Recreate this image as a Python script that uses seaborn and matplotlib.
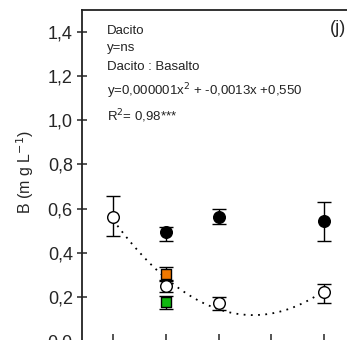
import numpy as np
import pandas as pd
import matplotlib
matplotlib.use("Agg")
import matplotlib.pyplot as plt
import seaborn as sns

# ---- data ----
x_ticks = [0, 1, 2, 3, 4]
y_ticks = [0.0, 0.2, 0.4, 0.6, 0.8, 1.0, 1.2, 1.4]
y_tick_labels = ["0,0", "0,2", "0,4", "0,6", "0,8", "1,0", "1,2", "1,4"]

open_x = [0, 1, 2, 4]
open_y = [0.562, 0.249, 0.170, 0.223]
open_lo = [0.475, 0.222, 0.140, 0.173]
open_hi = [0.656, 0.276, 0.200, 0.258]

filled_x = [1, 2, 4]
filled_y = [0.492, 0.562, 0.544]
filled_lo = [0.454, 0.528, 0.454]
filled_hi = [0.517, 0.600, 0.628]

orange_x = [1]
orange_y = [0.302]
orange_lo = [0.271]
orange_hi = [0.333]

green_x = [1]
green_y = [0.175]
green_lo = [0.144]
green_hi = [0.203]

annot_lines = ["Dacito", "y=ns", "Dacito : Basalto",
               "y=0,000001x$^{2}$ + -0,0013x +0,550", "R$^{2}$= 0,98***"]
panel_label = "(j)"
y_label = "B (m g L$^{-1}$)"

sns.set_theme(style="ticks")
plt.rcParams["font.family"] = ["Liberation Sans", "DejaVu Sans"]

fig = plt.figure(figsize=(3.47, 3.40), dpi=100)
ax = fig.add_axes([82 / 347, -0.0026, 295 / 347, 330.9 / 340])

# quadratic trend through the open-circle means
coef = np.polyfit(open_x, open_y, 2)
xs = np.linspace(0, 4, 200)
trend = pd.DataFrame({"x": xs, "y": np.polyval(coef, xs)})
sns.lineplot(data=trend, x="x", y="y", ax=ax, color="black",
             linestyle=(0, (1, 3)), linewidth=1.3, zorder=1)

def draw(xv, yv, lo, hi, face, marker, ms):
    yv = np.array(yv); lo = np.array(lo); hi = np.array(hi)
    ax.errorbar(xv, yv, yerr=[yv - lo, hi - yv], fmt="none", ecolor="black",
                elinewidth=1.0, capsize=4.7, capthick=1.0, zorder=2)
    df = pd.DataFrame({"x": xv, "y": yv})
    sns.scatterplot(data=df, x="x", y="y", ax=ax, marker=marker, s=ms,
                    color=face, edgecolor="black", linewidth=1.0, zorder=3)

draw(open_x, open_y, open_lo, open_hi, "white", "o", 70)
draw(filled_x, filled_y, filled_lo, filled_hi, "black", "o", 70)
draw(orange_x, orange_y, orange_lo, orange_hi, "#f07800", "s", 60)
draw(green_x, green_y, green_lo, green_hi, "#10b810", "s", 60)

ax.set_xlim(-0.588, 5.0)
ax.set_ylim(0, 1.5)
ax.set_xticks(x_ticks)
ax.set_xticklabels([])
ax.set_yticks(y_ticks)
ax.set_yticklabels(y_tick_labels, fontsize=13)
ax.tick_params(axis="y", direction="inout", length=7.2, width=1.1, pad=3)
ax.tick_params(axis="x", direction="inout", length=10, width=1.1)
for s in ax.spines.values():
    s.set_linewidth(1.3)
    s.set_color("#222222")
ax.set_xlabel("")
ax.set_ylabel(y_label, fontsize=11.5)
ax.yaxis.set_label_coords(-0.155, 0.51)

ys_px = [31, 48, 67, 91, 116]
for t, yp in zip(annot_lines, ys_px):
    ax.text((107 - 82) / 295, (340.9 - yp) / 330.9, t, transform=ax.transAxes,
            fontsize=9.5, va="center", ha="left", color="#222222")
ax.text((338 - 82) / 295, (340.9 - 29) / 330.9, panel_label, transform=ax.transAxes,
        fontsize=13, va="center", ha="center")

fig.savefig("out.png", dpi=100)
